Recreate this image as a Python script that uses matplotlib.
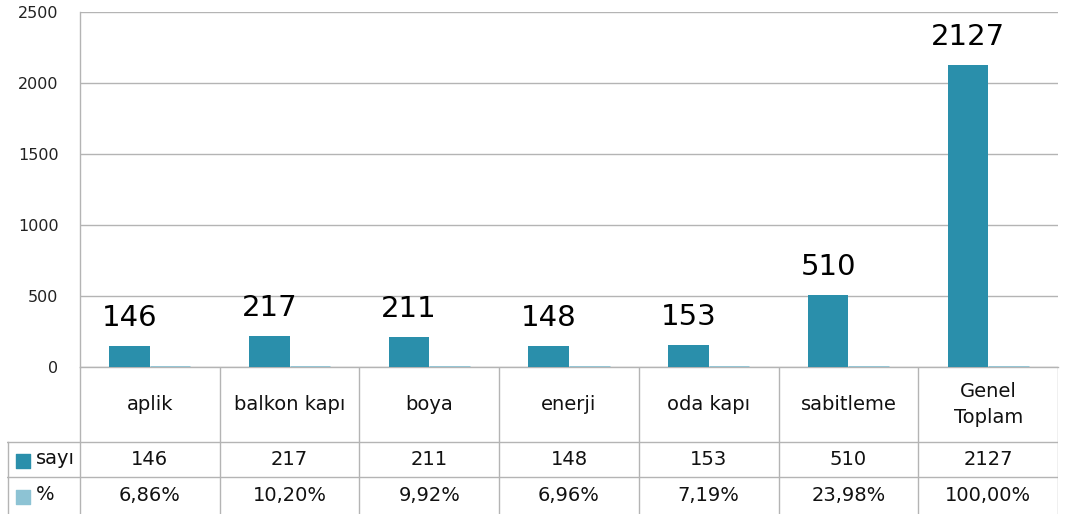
import matplotlib.pyplot as plt
import numpy as np

# data
categories = ["aplik", "balkon kapı", "boya", "enerji", "oda kapı", "sabitleme", "Genel\nToplam"]
sayi = [146, 217, 211, 148, 153, 510, 2127]
yuzde = [0.0686, 0.1020, 0.0992, 0.0696, 0.0719, 0.2398, 1.0]
yuzde_labels = ["6,86%", "10,20%", "9,92%", "6,96%", "7,19%", "23,98%", "100,00%"]
series_names = ["sayı", "%"]
yticks = [0, 500, 1000, 1500, 2000, 2500]

c_sayi = "#2a8fab"
c_pct = "#8dc3d4"
c_grid = "#b4b4b4"

W, H = 1066, 514
fig = plt.figure(figsize=(W / 100, H / 100), dpi=100)

# main plot area (pixel box: x 80..1058, y 12..367)
left, right, top, base = 80, 1058, 12, 367
ax = fig.add_axes([left / W, 1 - base / H, (right - left) / W, (base - top) / H])

x = np.arange(len(categories))
bw = 0.29
ax.bar(x - bw / 2, sayi, width=bw, color=c_sayi, zorder=3)
ax.bar(x + bw / 2, yuzde, width=bw, color=c_pct, edgecolor=c_pct, linewidth=2, zorder=3)

for xi, v in zip(x, sayi):
    ax.annotate(str(v), (xi - bw / 2, v), xytext=(0, 14.4), textcoords="offset points",
                ha="center", va="baseline", fontsize=21, color="black")

ax.set_xlim(-0.5, len(categories) - 0.5)
ax.set_ylim(0, 2500)
ax.set_yticks(yticks)
ax.set_xticks([])
ax.tick_params(axis="y", length=0, pad=15.5, labelsize=11.5, labelcolor="#222222")
ax.grid(axis="y", color=c_grid, linewidth=1)
ax.set_axisbelow(True)
for s in ["top", "right"]:
    ax.spines[s].set_visible(False)
ax.spines["left"].set_color(c_grid)
ax.spines["bottom"].set_color(c_grid)
ax.spines["left"].set_linewidth(1)
ax.spines["bottom"].set_linewidth(1)

# data table below (pixel box: x 7..1058, y 367..514)
tleft = 7
cat_w = (right - left) / len(categories)
tax = fig.add_axes([tleft / W, 0, (right - tleft) / W, (H - base) / H])
x0 = -0.5 - (left - tleft) / cat_w
tax.set_xlim(x0, len(categories) - 0.5)
tax.set_ylim(0, H - base)
tax.axis("off")

row1_top = H - 442   # y in table coords (from bottom)
row2_top = H - 477
lc = c_grid
lw = 1

# horizontal lines
tax.plot([x0, len(categories) - 0.5], [row1_top, row1_top], color=lc, lw=lw)
tax.plot([x0, len(categories) - 0.5], [row2_top, row2_top], color=lc, lw=lw)
# vertical lines
for b in np.arange(-0.5, len(categories) + 0.5, 1):
    tax.plot([b, b], [0, H - base], color=lc, lw=lw)
tax.plot([x0 + 0.005, x0 + 0.005], [0, row1_top], color=lc, lw=lw)

# category headers
for xi, cat in zip(x, categories):
    tax.text(xi, (H - base + row1_top) / 2, cat, ha="center", va="center",
             fontsize=14, linespacing=1.45, color="#111111")

# rows
row1_mid = (row1_top + row2_top) / 2
row2_mid = row2_top / 2
for xi, v, p in zip(x, sayi, yuzde_labels):
    tax.text(xi, row1_mid, str(v), ha="center", va="center", fontsize=14, color="#111111")
    tax.text(xi, row2_mid, p, ha="center", va="center", fontsize=14, color="#111111")

# legend keys in table
for ymid, name, col in [(row1_mid, series_names[0], c_sayi), (row2_mid, series_names[1], c_pct)]:
    tax.scatter([x0 + 0.115], [ymid - 1], marker="s", s=100, color=col)
    tax.text(x0 + 0.21, ymid + 1, name, ha="left", va="center", fontsize=14, color="#111111")

fig.savefig("out.png", dpi=100)
